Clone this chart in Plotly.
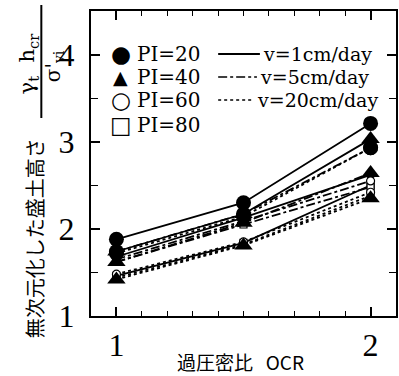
import plotly.graph_objects as go

# ---- data ----
ocr = [1.0, 1.5, 2.0]
pi_labels = ["PI=20", "PI=40", "PI=60", "PI=80"]
v_labels = ["v=1cm/day", "v=5cm/day", "v=20cm/day"]
x_ticks = [1, 2]
y_ticks = [1, 2, 3, 4]

pi20_v1 = [1.88, 2.30, 3.21]
pi20_v5 = [1.74, 2.17, 2.93]
pi20_v20 = [1.72, 2.14, 2.93]
pi40_v1 = [1.74, 2.17, 3.03]
pi40_v5 = [1.62, 2.07, 2.64]
pi40_v20 = [1.42, 1.81, 2.35]
pi60_v1 = [1.68, 2.13, 2.62]
pi60_v5 = [1.65, 2.09, 2.55]
pi60_v20 = [1.48, 1.85, 2.42]
pi80_v1 = [1.46, 1.84, 2.50]
pi80_v5 = [1.62, 2.05, 2.48]
pi80_v20 = [1.44, 1.82, 2.38]

series = [
    ("PI=80", [pi80_v1, pi80_v5, pi80_v20]),
    ("PI=60", [pi60_v1, pi60_v5, pi60_v20]),
    ("PI=20", [pi20_v1, pi20_v5, pi20_v20]),
    ("PI=40", [pi40_v1, pi40_v5, pi40_v20]),
]
marker_style = {
    "PI=20": dict(symbol="circle", size=15, color="black"),
    "PI=40": dict(symbol="triangle-up", size=16, color="black"),
    "PI=60": dict(symbol="circle", size=8, color="white", line=dict(width=1.2, color="black")),
    "PI=80": dict(symbol="square", size=7, color="white", line=dict(width=1.2, color="black")),
}
dash_style = ["solid", "dashdot", "dot"]

fig = go.Figure()
for pi, vals in series:
    for k, yv in enumerate(vals):
        fig.add_trace(go.Scatter(
            x=ocr, y=yv, mode="lines+markers",
            line=dict(color="black", width=1.8, dash=dash_style[k]),
            marker=marker_style[pi], showlegend=False,
        ))

# plot area in pixels
L, R, T, B = 91, 398, 11, 316
W, H = 399, 376


def px(xp):
    return (xp - L) / (R - L)


def py(yp):
    return (B - yp) / (B - T)


serif = "DejaVu Serif"
cjk = "Noto Sans CJK JP"

ann = []
shapes = []
# legend left column
glyphs = ["●", "▲", "○", "□"]
glyph_size = [23, 19, 23, 23]
rows = [54, 77, 100, 125]
for g, gs, lab, r in zip(glyphs, glyph_size, pi_labels, rows):
    ann.append(dict(x=px(121), y=py(r), xref="paper", yref="paper", text=g,
                    showarrow=False, xanchor="center", yanchor="middle",
                    font=dict(family="DejaVu Sans", size=gs, color="black")))
    ann.append(dict(x=px(135), y=py(r), xref="paper", yref="paper", text=lab,
                    showarrow=False, xanchor="left", yanchor="middle",
                    font=dict(family=serif, size=20, color="black")))
# legend right column
line_x0 = [219, 219, 219]
line_x1 = [261, 258, 255]
for k, (lab, r) in enumerate(zip(v_labels, rows[:3])):
    shapes.append(dict(type="line", xref="paper", yref="paper",
                       x0=px(line_x0[k]), x1=px(line_x1[k]), y0=py(r), y1=py(r),
                       line=dict(color="black", width=2 if k == 0 else 1.5, dash=dash_style[k])))
    ann.append(dict(x=px(line_x1[k] + 1), y=py(r), xref="paper", yref="paper", text=lab,
                    showarrow=False, xanchor="left", yanchor="middle",
                    font=dict(family=serif, size=19, color="black")))

# axis titles
ann.append(dict(x=px(241), y=py(376), xref="paper", yref="paper", text="過圧密比   OCR",
                showarrow=False, xanchor="center", yanchor="bottom", borderpad=0,
                font=dict(family=cjk, size=19, color="black")))
ann.append(dict(x=px(34), y=py(238), xref="paper", yref="paper", text="無次元化した盛土高さ",
                showarrow=False, xanchor="center", yanchor="middle", textangle=-90,
                font=dict(family=cjk, size=20, color="black")))
ann.append(dict(x=px(28), y=py(63), xref="paper", yref="paper",
                text="γ<sub>t</sub>  h<sub>cr</sub>",
                showarrow=False, xanchor="center", yanchor="middle", textangle=-90,
                font=dict(family=serif, size=21, color="black")))
ann.append(dict(x=px(54), y=py(66), xref="paper", yref="paper",
                text="σ'<sub>vi</sub>",
                showarrow=False, xanchor="center", yanchor="middle", textangle=-90,
                font=dict(family=serif, size=20, color="black")))
shapes.append(dict(type="line", xref="paper", yref="paper",
                   x0=px(41), x1=px(41), y0=py(5), y1=py(118),
                   line=dict(color="black", width=2)))

fig.update_layout(
    width=W, height=H,
    margin=dict(l=L, r=W - R, t=T, b=H - B),
    paper_bgcolor="white", plot_bgcolor="white",
    annotations=ann, shapes=shapes, showlegend=False,
    xaxis=dict(range=[0.9, 2.1], tickvals=x_ticks, ticktext=[str(v) for v in x_ticks],
               ticks="inside", ticklen=9, tickwidth=1.5, tickcolor="black",
               showline=True, linecolor="black", linewidth=2, mirror="ticks",
               showgrid=False, zeroline=False, ticklabelstandoff=0,
               tickfont=dict(family="Liberation Serif", size=32, color="black"),
               minor=dict(dtick=0.1, ticks="inside", ticklen=5, tickwidth=1.2,
                          tickcolor="black", showgrid=False)),
    yaxis=dict(range=[1, 4.5], tickvals=y_ticks, ticktext=[str(v) for v in y_ticks],
               ticks="inside", ticklen=9, tickwidth=1.5, tickcolor="black",
               showline=True, linecolor="black", linewidth=2, mirror="ticks",
               showgrid=False, zeroline=False, ticklabelstandoff=8,
               tickfont=dict(family="Liberation Serif", size=32, color="black"),
               minor=dict(dtick=0.5, ticks="inside", ticklen=7, tickwidth=1.2,
                          tickcolor="black", showgrid=False)),
)

fig.write_html("out.html")
